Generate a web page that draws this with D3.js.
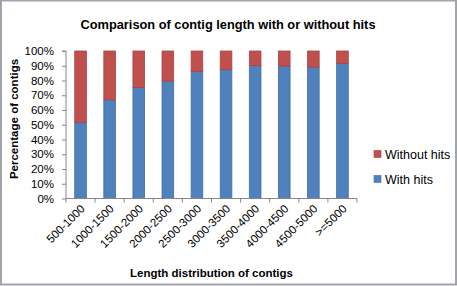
<!DOCTYPE html>
<html>
<head>
<meta charset="utf-8">
<script src="https://cdn.jsdelivr.net/npm/d3@7"></script>
<style>
body{margin:0;background:#fff;}
svg text{font-family:"Liberation Sans",Arial,sans-serif;fill:#000;}
</style>
</head>
<body>
<svg id="chart" width="457" height="286"></svg>
<script>
// categories and values (percent)
var categories = ["500-1000","1000-1500","1500-2000","2000-2500","2500-3000","3000-3500","3500-4000","4000-4500","4500-5000",">=5000"];
var withHits = [51.5,66.9,75.3,79.6,86.2,87.3,90.2,89.8,89.1,91.6];
var withoutHits = withHits.map(function(v){return 100-v;});
var yTicks = [0,10,20,30,40,50,60,70,80,90,100];

var seriesNames = ["With hits","Without hits"];
var colors = {"With hits":"#4F81BD","Without hits":"#C0504D"};
var strokes = {"With hits":"#3f6ea6","Without hits":"#a94441"};

var svg = d3.select("#chart");

// outer frame
svg.append("rect")
    .attr("x",1).attr("y",0.5)
    .attr("width",455).attr("height",284)
    .style("fill","none")
    .style("stroke","#a3a3ab")
    .style("stroke-width","2px");

var pLeft=66, pRight=357, pTop=51, pBottom=198.5;

var x = d3.scaleBand()
    .domain(categories)
    .range([pLeft,pRight])
    .paddingInner(0.6)
    .paddingOuter(0.3);

var y = d3.scaleLinear()
    .domain([0,100])
    .range([pBottom,pTop]);

var table = categories.map(function(c,i){
    return {cat:c,"With hits":withHits[i],"Without hits":withoutHits[i]};
});
var stacked = d3.stack().keys(seriesNames)(table);

svg.append("g").selectAll("g")
    .data(stacked)
    .enter().append("g")
    .style("fill",function(d){return colors[d.key];})
    .style("stroke",function(d){return strokes[d.key];})
    .style("stroke-width","0.8px")
    .selectAll("rect")
    .data(function(d){return d;})
    .enter().append("rect")
    .attr("x",function(d){return x(d.data.cat);})
    .attr("width",x.bandwidth())
    .attr("y",function(d){return y(d[1]);})
    .attr("height",function(d){return y(d[0])-y(d[1]);});

// y axis
var yAxis = svg.append("g")
    .attr("transform","translate("+pLeft+",0)")
    .call(d3.axisLeft(y).tickValues(yTicks).tickSize(4).tickPadding(8)
        .tickFormat(function(d){return d+"%";}));
yAxis.select(".domain").attr("d","M-4,"+pTop+"H0V"+pBottom);
yAxis.selectAll("path,line").style("stroke","#868686");
yAxis.selectAll("text").style("font-size","11.5px").style("font-family","'Liberation Sans',Arial,sans-serif");

// x axis with ticks on category boundaries
var xAxisG = svg.append("g")
    .attr("transform","translate(0,"+pBottom+")");
xAxisG.append("line")
    .attr("x1",pLeft).attr("x2",pRight)
    .attr("y1",0).attr("y2",0);
var bounds = categories.map(function(c){return x(c)-x.step()*x.paddingInner()/2;});
bounds.push(pRight);
xAxisG.selectAll(".tk").data(bounds).enter().append("line")
    .attr("class","tk")
    .attr("x1",function(d){return d;}).attr("x2",function(d){return d;})
    .attr("y1",0).attr("y2",4);
xAxisG.selectAll("line").style("stroke","#868686");

xAxisG.selectAll(".lbl").data(categories).enter().append("text")
    .attr("class","lbl")
    .attr("transform",function(d){return "translate("+(x(d)+x.bandwidth()/2+5)+",11) rotate(-45)";})
    .attr("text-anchor","end")
    .style("font-size","11.5px")
    .text(function(d){return d;});

// titles
svg.append("text")
    .attr("x",228).attr("y",29)
    .attr("text-anchor","middle")
    .style("font-size","12.8px").style("font-weight","bold")
    .text("Comparison of contig length with or without hits");

svg.append("text")
    .attr("x",(pLeft+pRight)/2).attr("y",277)
    .attr("text-anchor","middle")
    .style("font-size","11.5px").style("font-weight","bold")
    .text("Length distribution of contigs");

svg.append("text")
    .attr("transform","translate(18,119) rotate(-90)")
    .attr("text-anchor","middle")
    .style("font-size","11.5px").style("font-weight","bold")
    .text("Percentage of contigs");

// legend
var legendItems = ["Without hits","With hits"];
var lg = svg.append("g").selectAll("g")
    .data(legendItems).enter().append("g")
    .attr("transform",function(d,i){return "translate(374,"+(154+i*25)+")";});
lg.append("rect")
    .attr("x",0).attr("y",-3.5).attr("width",7).attr("height",7)
    .style("fill",function(d){return colors[d];})
    .style("stroke",function(d){return strokes[d];})
    .style("stroke-width","0.6px");
lg.append("text")
    .attr("x",11).attr("y",4.5)
    .style("font-size","12.5px")
    .text(function(d){return d;});
</script>
</body>
</html>
